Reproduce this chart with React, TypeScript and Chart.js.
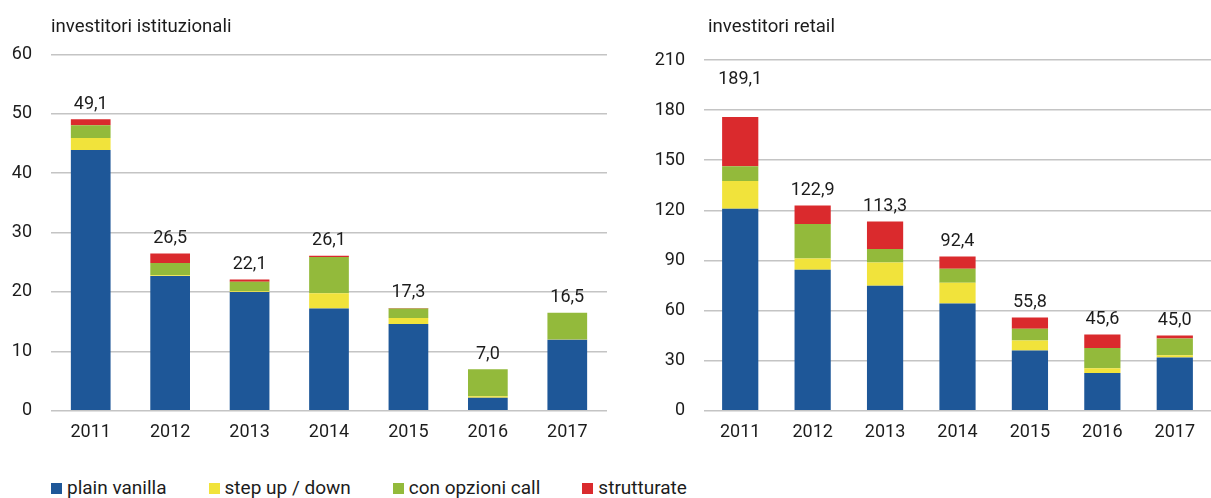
import React, { useEffect, useRef } from "react";
import { Chart, registerables } from "chart.js";

Chart.register(...registerables);

const categories = ["2011", "2012", "2013", "2014", "2015", "2016", "2017"];
const seriesNames = ["plain vanilla", "step up / down", "con opzioni call", "strutturate"];
const seriesColors = ["#1e5798", "#f1e33b", "#93ba3b", "#da2a2d"];

// investitori istituzionali
const instPlain = [43.9, 22.7, 20.0, 17.2, 14.6, 2.2, 11.95];
const instStep = [2.05, 0.1, 0.1, 2.6, 1.0, 0.25, 0.05];
const instCall = [2.15, 2.1, 1.6, 6.1, 1.6, 4.55, 4.5];
const instStrutt = [1.0, 1.6, 0.4, 0.2, 0.1, 0, 0];
const instTotals = [49.1, 26.5, 22.1, 26.1, 17.3, 7.0, 16.5];

// investitori retail
const retPlain = [121.0, 84.4, 74.8, 64.2, 36.0, 22.6, 31.8];
const retStep = [16.6, 6.8, 14.0, 12.4, 6.0, 2.8, 1.4];
const retCall = [8.8, 20.6, 8.0, 8.4, 7.0, 12.2, 10.0];
const retStrutt = [29.4, 11.1, 16.5, 7.4, 6.8, 8.0, 1.8];
const retTotals = [189.1, 122.9, 113.3, 92.4, 55.8, 45.6, 45.0];

const FONT = "Roboto, 'Noto Sans', sans-serif";
const TEXT = "#1c1c1c";
const GRID = "#c4c4c4";

type Cfg = {
  title: string;
  series: number[][];
  totals: number[];
  max: number;
  step: number;
  yWidth: number;
  padTop: number;
  padRight: number;
  titleDx: number;
};

function makeChart(canvas: HTMLCanvasElement, cfg: Cfg) {
  const labelsPlugin = {
    id: "totalsAndTitle",
    afterDatasetsDraw(chart: any) {
      const ctx = chart.ctx;
      const xs = chart.scales.x;
      const ys = chart.scales.y;
      ctx.save();
      ctx.fillStyle = TEXT;
      ctx.font = `18px ${FONT}`;
      ctx.textAlign = "center";
      ctx.textBaseline = "middle";
      cfg.totals.forEach((t, i) => {
        const x = xs.getPixelForValue(i);
        const y = ys.getPixelForValue(t) - 15;
        ctx.fillText(t.toFixed(1).replace(".", ","), x, y);
      });
      ctx.font = `18.6px ${FONT}`;
      ctx.textAlign = "left";
      ctx.textBaseline = "alphabetic";
      ctx.fillText(cfg.title, chart.chartArea.left + cfg.titleDx, 31.5);
      ctx.restore();
    },
  };

  return new Chart(canvas, {
    type: "bar",
    data: {
      labels: categories,
      datasets: cfg.series.map((d, k) => ({
        label: seriesNames[k],
        data: d,
        backgroundColor: seriesColors[k],
        borderWidth: 0,
        categoryPercentage: 1,
        barPercentage: 0.5,
      })),
    },
    options: {
      responsive: false,
      animation: false,
      devicePixelRatio: 1,
      layout: { padding: { top: cfg.padTop, right: cfg.padRight, left: 0, bottom: 0 } },
      plugins: {
        legend: { display: false },
        tooltip: { enabled: false },
        title: { display: false },
      },
      scales: {
        x: {
          stacked: true,
          grid: { display: false, drawTicks: false },
          border: { display: false },
          ticks: { color: TEXT, font: { family: FONT, size: 18 }, padding: 11, maxRotation: 0 },
          afterFit: (s: any) => {
            s.height = 39.3;
          },
        },
        y: {
          stacked: true,
          min: 0,
          max: cfg.max,
          grid: { color: GRID, lineWidth: 1.5, drawTicks: false },
          border: { display: false },
          ticks: {
            stepSize: cfg.step,
            color: TEXT,
            font: { family: FONT, size: 18 },
            padding: 19,
          },
          afterFit: (s: any) => {
            s.width = cfg.yWidth;
          },
        },
      },
    },
    plugins: [labelsPlugin],
  } as any);
}

function BarPanel({ cfg, left, width }: { cfg: Cfg; left: number; width: number }) {
  const ref = useRef<HTMLCanvasElement | null>(null);
  useEffect(() => {
    if (!ref.current) return;
    const c = makeChart(ref.current, cfg);
    return () => c.destroy();
  }, []);
  return (
    <canvas
      ref={ref}
      width={width}
      height={450}
      style={{ position: "absolute", left, top: 0, width, height: 450 }}
    />
  );
}

export default function App() {
  const leftCfg: Cfg = {
    title: "investitori istituzionali",
    series: [instPlain, instStep, instCall, instStrutt],
    totals: instTotals,
    max: 60,
    step: 10,
    yWidth: 51,
    padTop: 54.5,
    padRight: 8,
    titleDx: 0,
  };
  const rightCfg: Cfg = {
    title: "investitori retail",
    series: [retPlain, retStep, retCall, retStrutt],
    totals: retTotals,
    max: 210,
    step: 30,
    yWidth: 89,
    padTop: 60,
    padRight: 0,
    titleDx: 4,
  };
  return (
    <div
      style={{
        position: "absolute",
        left: 0,
        top: 0,
        width: 1211,
        height: 498,
        background: "#fff",
        overflow: "hidden",
      }}
    >
      <BarPanel cfg={leftCfg} left={0} width={615} />
      <BarPanel cfg={rightCfg} left={615} width={596} />
      <div
        style={{
          position: "absolute",
          left: 51,
          top: 477,
          display: "flex",
          alignItems: "center",
          gap: 42,
          fontFamily: FONT,
          fontSize: 19,
          color: TEXT,
          lineHeight: "22px",
          whiteSpace: "nowrap",
        }}
      >
        {seriesNames.map((n, k) => (
          <div key={n} style={{ display: "flex", alignItems: "center" }}>
            <span
              style={{
                display: "inline-block",
                width: 11,
                height: 11,
                background: seriesColors[k],
                marginRight: 5,
              }}
            />
            <span>{n}</span>
          </div>
        ))}
      </div>
    </div>
  );
}
